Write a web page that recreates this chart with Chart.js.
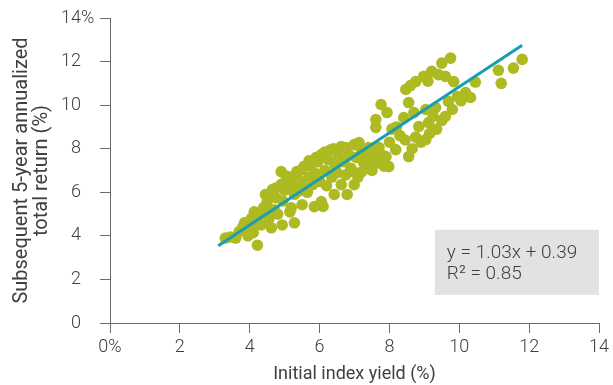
<!DOCTYPE html>
<html>
<head>
<meta charset="utf-8">
<script src="https://cdn.jsdelivr.net/npm/chart.js@4"></script>
<style>
  html, body { margin: 0; padding: 0; background: #fff; }
</style>
</head>
<body>
<canvas id="yieldChart" width="613" height="385"></canvas>
<script>
// Rendimento inicial do índice (%) x retorno anual dos 5 anos seguintes (%)
const yieldX = [
  3.30, 3.45, 3.60, 3.70, 3.80, 3.85, 3.95, 4.00, 4.05, 4.13, 4.10, 4.22, 4.25, 4.33, 4.30, 4.40, 4.45, 4.50, 4.55, 4.62,
  4.65, 4.70, 4.75, 4.75, 4.80, 4.90, 4.90, 4.93, 4.95, 5.00, 5.00, 5.05, 5.13, 5.15, 5.19, 5.20, 5.25, 5.28, 5.28, 5.35,
  5.40, 5.45, 5.45, 5.50, 5.55, 5.60, 5.65, 5.70, 5.70, 5.75, 5.80, 5.85, 5.90, 5.90, 5.95, 6.00, 6.05, 6.05, 6.10, 6.15,
  6.15, 6.20, 6.25, 6.33, 6.35, 6.40, 6.42, 6.45, 6.50, 6.55, 6.62, 6.62, 6.70, 6.75, 6.75, 6.79, 6.85, 6.90, 6.95, 6.99,
  6.99, 7.05, 7.10, 7.13, 7.19, 7.21, 7.25, 7.30, 7.35, 7.40, 7.45, 7.50, 7.55, 7.61, 7.61, 7.65, 7.70, 7.76, 7.80, 7.85,
  7.90, 7.93, 7.98, 8.00, 8.07, 8.18, 8.20, 8.30, 8.41, 8.45, 8.47, 8.55, 8.55, 8.60, 8.65, 8.70, 8.75, 8.75, 8.84, 8.90,
  8.98, 9.04, 9.04, 9.10, 9.12, 9.15, 9.21, 9.25, 9.32, 9.35, 9.40, 9.50, 9.50, 9.60, 9.60, 9.69, 9.75, 9.84, 9.80, 9.95,
  10.05, 10.18, 10.32, 10.46, 11.12, 11.20, 11.55, 11.80
];
const returnY = [
  3.90, 3.95, 3.90, 4.20, 4.40, 4.60, 4.00, 4.35, 4.80, 5.10, 4.15, 3.57, 4.60, 4.50, 5.00, 5.30, 5.90, 5.57, 4.80, 4.37,
  6.12, 5.20, 5.75, 6.20, 5.00, 6.35, 6.95, 4.50, 5.60, 6.10, 6.45, 6.75, 6.58, 5.10, 5.29, 6.70, 6.30, 5.90, 4.60, 6.95,
  6.05, 6.50, 7.00, 5.43, 7.18, 6.20, 6.00, 6.70, 7.45, 7.20, 6.35, 5.34, 6.85, 7.60, 7.40, 6.50, 5.57, 7.73, 5.35, 7.00,
  7.85, 6.30, 7.50, 7.96, 6.70, 8.00, 5.90, 7.20, 6.90, 7.65, 8.10, 6.35, 7.40, 6.80, 8.05, 5.90, 7.70, 7.10, 6.95, 8.19,
  6.35, 7.60, 6.70, 8.28, 8.00, 6.95, 7.40, 7.85, 7.25, 8.05, 7.60, 7.00, 7.75, 9.34, 8.98, 7.35, 8.05, 10.03, 7.70, 7.20,
  7.64, 9.66, 7.18, 8.30, 8.90, 7.96, 9.00, 8.60, 9.43, 8.40, 10.72, 10.12, 7.64, 10.90, 8.00, 9.66, 11.08, 8.53, 9.02, 8.30,
  11.32, 9.80, 8.42, 11.10, 9.20, 8.70, 11.55, 9.50, 9.89, 8.90, 11.40, 11.93, 9.30, 11.32, 9.48, 10.17, 12.16, 11.08, 9.80, 10.40,
  10.20, 10.58, 10.35, 11.06, 11.60, 11.00, 11.70, 12.10
];

// Reta de regressão (extremos)
const fitX = [3.1, 11.8];
const fitY = [3.55, 12.75];
const fitLabel = ['y = 1.03x + 0.39', 'R\u00B2 = 0.85'];

const xTitle = 'Initial index yield (%)';
const yTitle = ['Subsequent 5-year annualized', 'total return (%)'];

const FONT = 'Roboto';
const TEXT = '#404040';
const AXIS = '#6b6b6b';

// caixa cinza da equação + "%" pendurado no topo do eixo y
const extras = {
  id: 'extras',
  afterDraw(chart) {
    const { ctx, scales: { x, y } } = chart;
    const left = x.getPixelForValue(9.3);
    const right = x.getPixelForValue(14);
    const top = y.getPixelForValue(4.28);
    const bottom = y.getPixelForValue(1.29);
    ctx.save();
    ctx.fillStyle = '#e2e2e2';
    ctx.fillRect(left, top, right - left, bottom - top);
    ctx.fillStyle = TEXT;
    ctx.font = '300 19px ' + FONT;
    ctx.textBaseline = 'middle';
    ctx.textAlign = 'left';
    ctx.fillText(fitLabel[0], left + 12, top + 23);
    ctx.fillText(fitLabel[1], left + 12, top + 44);
    ctx.font = '300 18px ' + FONT;
    ctx.fillText('%', 81, y.getPixelForValue(14));
    ctx.restore();
  }
};

const ctx = document.getElementById('yieldChart').getContext('2d');
new Chart(ctx, {
  type: 'scatter',
  data: {
    datasets: [
      {
        type: 'line',
        data: fitX.map((v, i) => ({ x: v, y: fitY[i] })),
        borderColor: '#1a9db1',
        borderWidth: 3,
        pointRadius: 0,
        fill: false,
        order: 0
      },
      {
        data: yieldX.map((v, i) => ({ x: v, y: returnY[i] })),
        backgroundColor: '#adba22',
        borderWidth: 0,
        pointRadius: 5.8,
        order: 1
      }
    ]
  },
  options: {
    responsive: false,
    animation: false,
    devicePixelRatio: 1,
    layout: { padding: { top: 18, right: 12, left: 0, bottom: 0 } },
    plugins: { legend: { display: false }, tooltip: { enabled: false } },
    scales: {
      x: {
        type: 'linear',
        min: 0, max: 14,
        afterFit: s => { s.height = 62; },
        ticks: {
          stepSize: 2,
          padding: 4,
          color: TEXT,
          font: { family: FONT, size: 18, weight: 300 },
          callback: v => v === 0 ? '0%' : String(v)
        },
        grid: { drawOnChartArea: false, tickLength: 10, color: AXIS },
        border: { color: AXIS },
        title: {
          display: true,
          text: xTitle,
          color: TEXT,
          font: { family: FONT, size: 18 },
          padding: { top: 4, bottom: 0 }
        }
      },
      y: {
        min: 0, max: 14,
        afterFit: s => { s.width = 110; s.paddingTop = 0; s.paddingBottom = 0; },
        ticks: {
          stepSize: 2,
          padding: 19,
          color: TEXT,
          font: { family: FONT, size: 18, weight: 300 },
          callback: v => String(v)
        },
        grid: { drawOnChartArea: false, tickLength: 10, color: AXIS },
        border: { color: AXIS },
        title: {
          display: true,
          text: yTitle,
          color: TEXT,
          font: { family: FONT, size: 20, lineHeight: 1.0 },
          padding: { top: 12 }
        }
      }
    }
  },
  plugins: [extras]
});
</script>
</body>
</html>
